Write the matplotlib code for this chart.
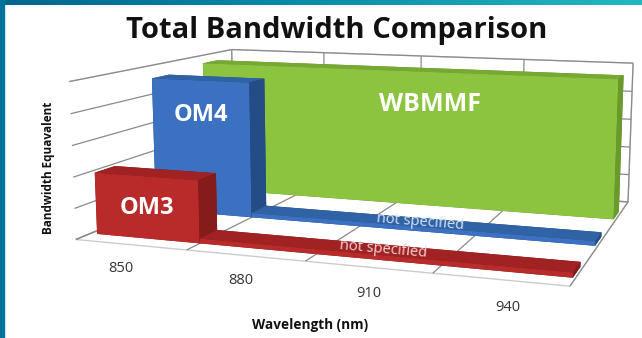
import numpy as np
import matplotlib.pyplot as plt
from matplotlib.colors import LinearSegmentedColormap
from mpl_toolkits.mplot3d import proj3d

plt.rcParams['font.family'] = ['Open Sans', 'DejaVu Sans']

wavelengths = ['850', '880', '910', '940']
series = ['OM3', 'OM4', 'WBMMF']
om3 = [2.0, 0.15, 0.15, 0.15]
om4 = [4.6, 0.15, 0.15, 0.15]
wbmmf = [4.75, 4.75, 4.75, 4.75]
values = [om3, om4, wbmmf]

# faces: bottom, top, front, back, left, right
face_cols = {
    'OM3': ['#7a1616', '#a02222', '#b92b2b', '#7a1616', '#7a1616', '#861b1b'],
    'OM4': ['#1d4478', '#3063a6', '#3c70c0', '#1d4478', '#1d4478', '#244d88'],
    'WBMMF': ['#5f8a25', '#77a834', '#8cc43f', '#5f8a25', '#5f8a25', '#6a9a2c'],
}
text_col = {'OM3': '#f4d6d6', 'OM4': '#d8e4f4'}

W, H = 642, 338
fig = plt.figure(figsize=(W / 100, H / 100), dpi=100)
fig.patch.set_facecolor('white')
pos0 = [0.0, -0.05, 1.0, 1.05]
ax = fig.add_axes(pos0, projection='3d', computed_zorder=False)

n = len(wavelengths)
ymax = 3.3
zmax = 5
ax.set_xlim(0, n)
ax.set_ylim(0, ymax)
ax.set_zlim(0, zmax)

# fit the camera so the box corners land where the original chart has them
corners = np.array([[0, 0, 0], [n, 0, 0], [0, ymax, 0], [n, ymax, 0],
                    [0, ymax, zmax], [0, 0, zmax], [n, ymax, zmax]], float)
target = np.array([[78, 237], [570, 287], [233, 178], [626, 200],
                   [233, 48], [67, 83], [635, 63]], float)

fig.canvas.draw()


def place(p):
    elev, azim, foc, ay, az, zoom = p
    ax.view_init(elev=elev, azim=azim)
    ax.set_proj_type('persp', focal_length=max(foc, 0.3))
    ax.set_box_aspect((3.2, ay, az), zoom=zoom)
    xs, ys, _ = proj3d.proj_transform(corners[:, 0], corners[:, 1],
                                      corners[:, 2], ax.get_proj())
    pts = ax.transData.transform(np.column_stack([xs, ys]))
    pts[:, 1] = H - pts[:, 1]
    return pts


def err(p):
    pts = place(p)
    shift = (target - pts).mean(axis=0)
    return ((pts + shift - target) ** 2).sum()


p = np.array([16.0, -64.0, 1.2, 2.6, 0.95, 2.0])
steps = np.array([4.0, 6.0, 0.4, 0.5, 0.2, 0.3])
best = err(p)
for it in range(80):
    improved = False
    for d in range(len(p)):
        for sgn in (1, -1):
            q = p.copy()
            q[d] += sgn * steps[d]
            if q[2] < 0.3 or q[3] < 0.3 or q[4] < 0.2 or q[5] < 0.3:
                continue
            e = err(q)
            if e < best:
                p, best, improved = q, e, True
    if not improved:
        steps *= 0.5

pts = place(p)
shift = (target - pts).mean(axis=0)
ax.set_position([pos0[0] + shift[0] / W, pos0[1] - shift[1] / H, pos0[2], pos0[3]])

gap_l = 0.06
gap_r = 0.02
depth = 0.35
zo = 1
for j in range(len(series) - 1, -1, -1):
    name = series[j]
    vals = values[j]
    yf = 0.25 + 1.1 * j
    i = 0
    while i < n:
        k = i
        while k + 1 < n and vals[k + 1] == vals[i]:
            k += 1
        x0 = i + (gap_l if i == 0 else 0)
        x1 = k + 1 - (gap_r if k == n - 1 else 0)
        coll = ax.bar3d(x0, yf, 0, x1 - x0, depth, vals[i],
                        color=face_cols[name], shade=False, edgecolor='none')
        coll.set_zorder(zo)
        coll.set_clip_on(False)
        zo += 1
        if vals[i] < 0.5:
            t = ax.text((x0 + x1) / 2, yf + depth / 2, vals[i], 'not specified',
                        zdir='x', ha='center', va='center', fontsize=10.5,
                        color=text_col[name], zorder=50)
        elif name == 'WBMMF':
            t = ax.text((x0 + x1) / 2 + 0.3, yf, vals[i] * 0.76, name,
                        ha='center', va='center', fontsize=18, fontweight='bold',
                        color='white', zorder=50)
        else:
            zpos = vals[i] * (0.5 if name == 'OM3' else 0.74)
            t = ax.text((x0 + x1) / 2, yf, zpos, name,
                        ha='center', va='center', fontsize=17, fontweight='bold',
                        color='white', zorder=50)
        t.set_clip_on(False)
        i = k + 1

ax.set_xticks(range(n + 1))
ax.set_yticks([])
ax.set_zticks(range(zmax + 1))
ax.set_xticklabels([])
ax.set_zticklabels([])

for axis in (ax.xaxis, ax.yaxis, ax.zaxis):
    axis.pane.set_facecolor('white')
    axis.pane.set_edgecolor('#9a9a9a')
    axis._axinfo['grid'].update(color='#8a8a8a', linewidth=0.9)
    axis._axinfo['tick'].update(inward_factor=0, outward_factor=0)
    axis.line.set_color((0, 0, 0, 0))

for i, lab in enumerate(wavelengths):
    t = ax.text(i + 0.65, -0.45, -0.3, lab, ha='center', va='center',
                fontsize=10.5, color='#333333', zorder=50)
    t.set_clip_on(False)

fig.text(0.524, 0.911, 'Total Bandwidth Comparison', ha='center', va='center',
         fontsize=21, fontweight='bold', color='#111111')
fig.text(0.075, 0.503, 'Bandwidth Equavalent', rotation=90, ha='center',
         va='center', fontsize=8.5, fontweight='bold', color='#111111')
fig.text(0.483, 0.038, 'Wavelength (nm)', ha='center', va='center',
         fontsize=9.8, fontweight='bold', color='#111111')

# slide frame
grad = fig.add_axes([0, 0.985, 1, 0.015])
grad.imshow(np.linspace(0, 1, 256)[None, :], aspect='auto',
            cmap=LinearSegmentedColormap.from_list(
                'frame', ['#00668c', '#0a8fa8', '#22b8c0']))
grad.axis('off')
fig.patches.append(plt.Rectangle((0, 0), 0.007, 1, transform=fig.transFigure,
                                 color='#00729a', zorder=5))

fig.savefig('out.png', dpi=100)
